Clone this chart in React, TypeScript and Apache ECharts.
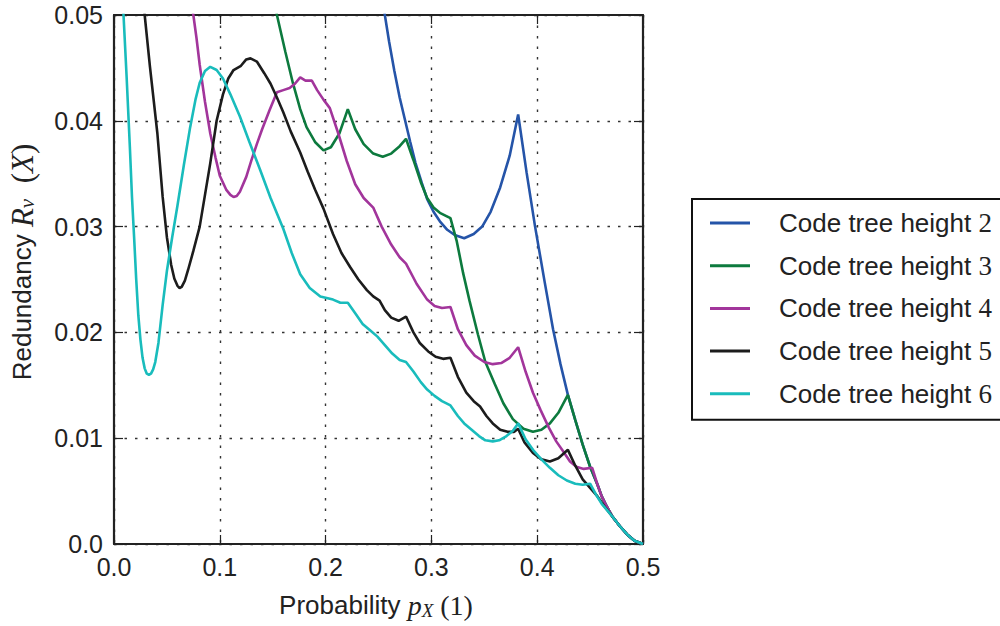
import React, { useEffect, useRef } from "react";
import * as echarts from "echarts";

const seriesNames = [
  "Code tree height 2",
  "Code tree height 3",
  "Code tree height 4",
  "Code tree height 5",
  "Code tree height 6",
];
const seriesColors = ["#2554a8", "#0d7a3e", "#a2359b", "#1c1c1c", "#19bcbc"];
const xTickLabels = ["0.0", "0.1", "0.2", "0.3", "0.4", "0.5"];
const yTickLabels = ["0.0", "0.01", "0.02", "0.03", "0.04", "0.05"];

type Pt = [number, number];

const tail: Pt[] = [
  [0.471, 0.0026], [0.478, 0.0017], [0.485, 0.0009], [0.492, 0.0003], [0.5, 0.0],
];

const height2: Pt[] = [
  [0.252, 0.0525], [0.256, 0.05], [0.26, 0.0475], [0.265, 0.0447], [0.27, 0.0422],
  [0.275, 0.0401], [0.28, 0.038], [0.285, 0.036], [0.291, 0.0341], [0.296, 0.0326],
  [0.302, 0.0314], [0.308, 0.0305], [0.315, 0.0297], [0.322, 0.0292], [0.331, 0.0289],
  [0.34, 0.0293], [0.348, 0.03], [0.356, 0.0314], [0.365, 0.0337], [0.374, 0.0367],
  [0.382, 0.0406], [0.39, 0.0351], [0.398, 0.03], [0.407, 0.0248], [0.415, 0.0203],
  [0.422, 0.017], [0.429, 0.0141], [0.436, 0.0117], [0.443, 0.0094], [0.45, 0.0073],
  [0.457, 0.0056], [0.461, 0.0045], [0.466, 0.0035], ...tail,
];

const height3: Pt[] = [
  [0.15, 0.0525], [0.154, 0.05], [0.162, 0.0465], [0.169, 0.0436], [0.176, 0.0411],
  [0.182, 0.0394], [0.19, 0.038], [0.198, 0.0372], [0.205, 0.0375], [0.213, 0.0388],
  [0.221, 0.0411], [0.228, 0.0392], [0.236, 0.0378], [0.245, 0.0369], [0.254, 0.0366],
  [0.262, 0.0369], [0.27, 0.0376], [0.276, 0.0383], [0.283, 0.0363], [0.29, 0.0342],
  [0.296, 0.0327], [0.302, 0.0318], [0.308, 0.0313], [0.318, 0.0308], [0.324, 0.0286],
  [0.33, 0.0256], [0.336, 0.023], [0.344, 0.0198], [0.351, 0.0172], [0.36, 0.0151],
  [0.368, 0.0133], [0.377, 0.0118], [0.387, 0.0109], [0.396, 0.0106], [0.404, 0.0108],
  [0.412, 0.0114], [0.42, 0.0124], [0.429, 0.0141], [0.436, 0.0117], [0.443, 0.0094],
  [0.45, 0.0073], [0.457, 0.0056], [0.461, 0.0045], [0.466, 0.0035], ...tail,
];

const height4: Pt[] = [
  [0.073, 0.0515], [0.075, 0.05], [0.078, 0.0478], [0.081, 0.0453], [0.086, 0.0418],
  [0.091, 0.0388], [0.096, 0.0365], [0.1, 0.0348], [0.106, 0.0335], [0.11, 0.033],
  [0.113, 0.0328], [0.116, 0.0329], [0.119, 0.0333], [0.125, 0.0347], [0.13, 0.0363],
  [0.135, 0.0378], [0.14, 0.0392], [0.147, 0.041], [0.154, 0.0427], [0.16, 0.0429],
  [0.166, 0.0431], [0.171, 0.0435], [0.176, 0.0441], [0.181, 0.0438], [0.187, 0.0438],
  [0.192, 0.0429], [0.198, 0.042], [0.204, 0.0412], [0.212, 0.0388], [0.22, 0.0362],
  [0.228, 0.034], [0.236, 0.0327], [0.245, 0.0318], [0.253, 0.03], [0.262, 0.0283],
  [0.27, 0.0271], [0.276, 0.0265], [0.286, 0.0246], [0.296, 0.0231], [0.303, 0.0225],
  [0.31, 0.0223], [0.318, 0.0224], [0.325, 0.0203], [0.333, 0.0188], [0.341, 0.0178],
  [0.35, 0.0172], [0.358, 0.017], [0.366, 0.0171], [0.374, 0.0176], [0.382, 0.0186],
  [0.389, 0.0163], [0.396, 0.0143], [0.403, 0.0127], [0.411, 0.011], [0.418, 0.0097],
  [0.425, 0.0087], [0.431, 0.0078], [0.437, 0.0073], [0.444, 0.0071], [0.452, 0.0072],
  [0.457, 0.0056], [0.461, 0.0045], [0.466, 0.0035], ...tail,
];

const height5: Pt[] = [
  [0.027, 0.0525], [0.029, 0.05], [0.034, 0.0451], [0.041, 0.0388], [0.046, 0.0328],
  [0.05, 0.029], [0.054, 0.0264], [0.057, 0.0251], [0.06, 0.0244], [0.062, 0.0242],
  [0.064, 0.0243], [0.067, 0.0249], [0.07, 0.0259], [0.075, 0.0277], [0.081, 0.03],
  [0.086, 0.033], [0.091, 0.036], [0.097, 0.04], [0.103, 0.0425], [0.108, 0.044],
  [0.113, 0.0448], [0.12, 0.0452], [0.125, 0.0458], [0.129, 0.0459], [0.135, 0.0456],
  [0.142, 0.0445], [0.148, 0.0435], [0.154, 0.0422], [0.16, 0.0408], [0.167, 0.039],
  [0.176, 0.037], [0.183, 0.0352], [0.19, 0.0335], [0.198, 0.0317], [0.207, 0.0293],
  [0.215, 0.0275], [0.223, 0.0262], [0.231, 0.025], [0.239, 0.024], [0.245, 0.0234],
  [0.251, 0.023], [0.256, 0.0221], [0.262, 0.0214], [0.269, 0.0211], [0.276, 0.0215],
  [0.283, 0.02], [0.289, 0.019], [0.297, 0.0182], [0.304, 0.0177], [0.311, 0.0175],
  [0.318, 0.0176], [0.325, 0.0158], [0.333, 0.0143], [0.34, 0.0135], [0.346, 0.013],
  [0.352, 0.0121], [0.358, 0.0114], [0.365, 0.0108], [0.372, 0.0106], [0.378, 0.0106],
  [0.382, 0.0109], [0.388, 0.0096], [0.396, 0.0086], [0.404, 0.008], [0.412, 0.0078],
  [0.42, 0.0081], [0.429, 0.0089], [0.436, 0.0074], [0.443, 0.0061], [0.45, 0.0053],
  [0.457, 0.0045], [0.464, 0.0035], ...tail,
];

const height6: Pt[] = [
  [0.007, 0.055], [0.009, 0.05], [0.012, 0.044], [0.015, 0.0375], [0.017, 0.0328],
  [0.019, 0.029], [0.021, 0.025], [0.023, 0.0216], [0.025, 0.0193], [0.027, 0.0176],
  [0.029, 0.0166], [0.031, 0.0161], [0.033, 0.016], [0.035, 0.0161], [0.037, 0.0165],
  [0.039, 0.0172], [0.042, 0.019], [0.046, 0.0226], [0.05, 0.0258], [0.055, 0.029],
  [0.06, 0.032], [0.066, 0.0358], [0.072, 0.0394], [0.077, 0.042], [0.081, 0.0436],
  [0.086, 0.0447], [0.091, 0.0451], [0.097, 0.0448], [0.103, 0.044], [0.11, 0.0425],
  [0.119, 0.0404], [0.128, 0.038], [0.138, 0.0354], [0.148, 0.0327], [0.16, 0.0298],
  [0.168, 0.0275], [0.176, 0.0255], [0.185, 0.0242], [0.195, 0.0234], [0.207, 0.0231],
  [0.214, 0.0228], [0.221, 0.0228], [0.228, 0.0218], [0.235, 0.0208], [0.242, 0.0202],
  [0.249, 0.0196], [0.256, 0.0188], [0.263, 0.018], [0.27, 0.0174], [0.276, 0.0172],
  [0.283, 0.0163], [0.29, 0.0153], [0.296, 0.0146], [0.303, 0.014], [0.31, 0.0135],
  [0.318, 0.0131], [0.325, 0.0121], [0.331, 0.0114], [0.338, 0.0108], [0.345, 0.0102],
  [0.351, 0.0098], [0.358, 0.0097], [0.364, 0.0098], [0.371, 0.0102], [0.377, 0.0107],
  [0.382, 0.0114], [0.389, 0.0099], [0.396, 0.0089], [0.404, 0.008], [0.412, 0.0072],
  [0.42, 0.0065], [0.428, 0.006], [0.436, 0.0057], [0.443, 0.0056], [0.45, 0.0057],
  [0.456, 0.0046], [0.461, 0.0038], [0.466, 0.0032], ...tail,
];

const allData = [height2, height3, height4, height5, height6];

const FONT = "'Liberation Sans', Arial, Helvetica, sans-serif";
const SERIF = "'Liberation Serif', 'DejaVu Serif', serif";
const INK = "#222222";

export default function App() {
  const ref = useRef<HTMLDivElement>(null);

  useEffect(() => {
    document.body.style.margin = "0";
    if (!ref.current) return;
    const chart = echarts.init(ref.current, undefined, { renderer: "svg" });

    const axisLine = { show: true, onZero: false, lineStyle: { color: INK, width: 2.2 } };
    const axisTick = { show: true, inside: true, length: 9, lineStyle: { color: INK, width: 1.2 } };
    const xBase = { type: "value" as const, min: 0, max: 0.5, interval: 0.1, axisLine, axisTick };
    const yBase = { type: "value" as const, min: 0, max: 0.05, interval: 0.01, axisLine, axisTick };
    const gridLine = {
      show: true,
      lineStyle: { color: "#333333", width: 1.4, type: [2.5, 8] as number[] },
    };

    const mathRich = {
      i: { fontFamily: SERIF, fontStyle: "italic", fontSize: 28, fill: INK, color: INK, lineHeight: 30 },
      s: { fontFamily: SERIF, fontStyle: "italic", fontSize: 19, fill: INK, color: INK, lineHeight: 19, verticalAlign: "bottom" },
      m: { fontFamily: SERIF, fontSize: 28, fill: INK, color: INK, lineHeight: 30 },
      t: { fontFamily: FONT, fontSize: 26, fill: INK, color: INK, lineHeight: 30 },
    };
    const yRich = {
      ...mathRich,
      i: { ...mathRich.i, fontSize: 31 },
      s: { ...mathRich.s, fontSize: 21 },
      m: { ...mathRich.m, fontSize: 31 },
    };

    chart.setOption({
      animation: false,
      backgroundColor: "#ffffff",
      grid: { left: 114, top: 15, width: 529, height: 529, containLabel: false },
      xAxis: [
        {
          ...xBase,
          position: "bottom",
          axisLabel: {
            show: true,
            margin: 10,
            fontFamily: FONT,
            fontSize: 25,
            color: INK,
            formatter: (v: number) => xTickLabels[Math.round(v / 0.1)] ?? String(v),
          },
          splitLine: gridLine,
        },
        {
          ...xBase,
          position: "top",
          axisLabel: { show: false },
          splitLine: { show: false },
        },
      ],
      yAxis: [
        {
          ...yBase,
          position: "left",
          axisLabel: {
            show: true,
            margin: 11,
            fontFamily: FONT,
            fontSize: 25,
            color: INK,
            formatter: (v: number) => yTickLabels[Math.round(v / 0.01)] ?? String(v),
          },
          splitLine: gridLine,
        },
        {
          ...yBase,
          position: "right",
          axisLabel: { show: false },
          splitLine: { show: false },
        },
      ],
      legend: {
        orient: "vertical",
        left: 692,
        top: 199,
        padding: [10, 30, 12, 18],
        itemWidth: 40,
        itemHeight: 3,
        itemGap: 14.7,
        icon: "rect",
        borderColor: "#111111",
        borderWidth: 2,
        borderRadius: 0,
        backgroundColor: "#ffffff",
        data: seriesNames,
        formatter: (name: string) => name.replace(/(\d)$/, "{m|$1}"),
        textStyle: {
          fontFamily: FONT,
          fontSize: 26,
          color: INK,
          lineHeight: 28,
          padding: [0, 0, 0, 24],
          rich: {
            m: { fontFamily: SERIF, fontSize: 27, color: INK, lineHeight: 28 },
          },
        },
      },
      graphic: [
        {
          type: "text",
          x: 376,
          y: 605,
          style: {
            text: "{t|Probability }{i|p}{s|X}{m| (1)}",
            align: "center",
            verticalAlign: "middle",
            fill: INK,
            fontFamily: FONT,
            fontSize: 26,
            rich: mathRich,
          },
        },
        {
          type: "text",
          x: 22,
          y: 262,
          rotation: Math.PI / 2,
          style: {
            text: "{t|Redundancy }{i|R}{s|v}{m|  (}{i|X}{m|)}",
            align: "center",
            verticalAlign: "middle",
            fill: INK,
            fontFamily: FONT,
            fontSize: 26,
            rich: yRich,
          },
        },
      ],
      series: allData.map((d, i) => ({
        type: "line",
        name: seriesNames[i],
        data: d,
        xAxisIndex: 0,
        yAxisIndex: 0,
        symbol: "none",
        showSymbol: false,
        clip: true,
        lineStyle: { color: seriesColors[i], width: 2.6 },
        itemStyle: { color: seriesColors[i] },
        emphasis: { disabled: true },
      })),
    });

    return () => {
      chart.dispose();
    };
  }, []);

  return <div ref={ref} style={{ width: 1000, height: 626 }} />;
}
